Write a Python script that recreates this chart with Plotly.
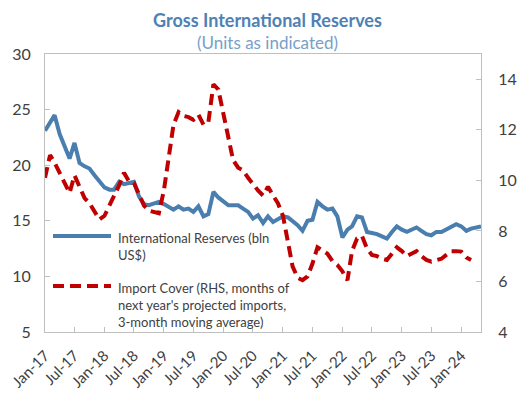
import pandas as pd
import plotly.graph_objects as go

# Monthly observations, Jan-2017 onward
reserves_start = "2017-01-01"
reserves_bln = [
    23.1, 23.8, 24.5, 22.8, 21.6, 20.6, 22.0, 20.2, 19.9, 19.7,
    19.1, 18.5, 18.0, 17.8, 17.8, 18.5, 18.3, 18.4, 18.5, 17.2,
    16.5, 16.4, 16.6, 16.7, 16.5, 16.2, 16.0, 16.3, 16.0, 16.1,
    15.8, 16.3, 15.4, 15.6, 17.6, 17.1, 16.7, 16.4, 16.4, 16.4,
    16.1, 15.8, 15.2, 15.5, 14.8, 15.4, 14.9, 15.1, 15.4, 15.3,
    15.0, 14.6, 14.1, 15.0, 15.1, 16.7, 16.3, 16.0, 16.1, 15.4,
    13.5, 14.2, 14.5, 15.4, 15.3, 14.0, 13.9, 13.8, 13.6, 13.4,
    14.0, 14.5, 14.2, 14.0, 14.2, 14.4, 14.1, 13.8, 13.7, 14.0,
    14.0, 14.2, 14.5, 14.7, 14.5, 14.1, 14.3, 14.4, 14.5,
]
import_cover_months = [
    10.1, 11.0, 10.7, 10.3, 9.9, 9.5, 10.2, 9.7, 9.3, 9.1,
    8.8, 8.45, 8.6, 9.0, 9.4, 9.8, 10.3, 9.95, 9.9, 9.4,
    9.0, 8.8, 8.75, 8.7, 9.6, 10.9, 12.2, 12.7, 12.55, 12.5,
    12.4, 12.6, 12.2, 12.3, 13.8, 13.6, 12.7, 11.7, 10.8, 10.5,
    10.4, 10.1, 9.85, 9.6, 9.4, 9.75, 9.4, 9.1, 8.6, 7.6,
    6.6, 6.15, 6.05, 6.2, 6.7, 7.35, 7.2, 7.1, 6.8, 6.65,
    6.4, 6.05, 7.2, 7.7, 7.8, 7.3, 7.05, 7.0, 6.9, 6.85,
    7.1, 7.35, 7.2, 7.0, 7.1, 7.2, 7.0, 6.85, 6.78, 6.85,
    6.9, 7.05, 7.2, 7.2, 7.18, 6.95, 6.85,
]
left_ticks = [5, 10, 15, 20, 25, 30]
right_ticks = [4, 6, 8, 10, 12, 14]

title_text = "Gross International Reserves"
subtitle_text = "(Units as indicated)"
reserves_label = "International Reserves (bln<br>US$)"
cover_label = "Import Cover (RHS, months of<br>next year's projected imports,<br>3-month moving average)"

reserves_dates = pd.date_range(reserves_start, periods=len(reserves_bln), freq="MS")
cover_dates = pd.date_range(reserves_start, periods=len(import_cover_months), freq="MS")

BLUE = "#4A7EAF"
RED = "#C00000"
AXIS = "#BFBFBF"
TEXT = "#404040"
FONT = "Lato"

fig = go.Figure()
fig.add_trace(go.Scatter(
    x=reserves_dates, y=reserves_bln, mode="lines", name="reserves",
    line=dict(color=BLUE, width=4), yaxis="y", showlegend=False,
))
fig.add_trace(go.Scatter(
    x=cover_dates, y=import_cover_months, mode="lines", name="cover",
    line=dict(color=RED, width=4, dash="11px,6px"), yaxis="y2", showlegend=False,
))

fig.update_layout(
    width=519, height=394,
    margin=dict(l=45, r=38, t=54, b=62),
    paper_bgcolor="white", plot_bgcolor="white",
    font=dict(family=FONT, color=TEXT),
    xaxis=dict(
        type="date", automargin=False,
        range=[reserves_dates[0], reserves_dates[-1]],
        tick0=reserves_start, dtick="M6", tickformat="%b-%y",
        tickangle=-45, tickfont=dict(size=15, color=TEXT),
        showgrid=False, zeroline=False,
        showline=True, linecolor=AXIS, linewidth=1, mirror=True,
        ticks="inside", ticklen=5, tickcolor=AXIS,
        ticklabelstandoff=8,
    ),
    yaxis=dict(
        range=[5, 30], tickvals=left_ticks, automargin=False,
        tickfont=dict(size=16, color=TEXT),
        showgrid=False, zeroline=False,
        showline=True, linecolor=AXIS, linewidth=1,
        ticks="inside", ticklen=5, tickcolor=AXIS,
        ticklabelstandoff=10,
    ),
    yaxis2=dict(
        range=[4, 15], tickvals=right_ticks, overlaying="y", side="right",
        automargin=False,
        tickfont=dict(size=16, color=TEXT),
        showgrid=False, zeroline=False,
        showline=True, linecolor=AXIS, linewidth=1,
        ticks="inside", ticklen=5, tickcolor=AXIS,
        ticklabelstandoff=13,
    ),
)

# Title block
fig.add_annotation(text="<b>" + title_text + "</b>", xref="paper", yref="paper",
                   x=0.51, y=1.0, yshift=34, yanchor="middle", showarrow=False,
                   font=dict(size=18, color="#4F81B3", family=FONT))
fig.add_annotation(text=subtitle_text, xref="paper", yref="paper",
                   x=0.51, y=1.0, yshift=12, yanchor="middle", showarrow=False,
                   font=dict(size=17, color="#77A0C9", family=FONT))

# Legend drawn inside the plot area
def px_x(p):
    return (p - 45) / (481 - 45)

def px_y(p):
    return (332 - p) / (332 - 54)

fig.add_shape(type="line", xref="paper", yref="paper",
              x0=px_x(53), x1=px_x(111), y0=px_y(236), y1=px_y(236),
              line=dict(color=BLUE, width=4))
fig.add_shape(type="line", xref="paper", yref="paper",
              x0=px_x(53), x1=px_x(111), y0=px_y(286), y1=px_y(286),
              line=dict(color=RED, width=4, dash="11px,6px"))
fig.add_annotation(text=reserves_label, xref="paper", yref="paper",
                   x=px_x(116), y=px_y(228), xanchor="left", yanchor="top",
                   align="left", showarrow=False,
                   font=dict(size=13, color=TEXT, family=FONT))
fig.add_annotation(text=cover_label, xref="paper", yref="paper",
                   x=px_x(116), y=px_y(278), xanchor="left", yanchor="top",
                   align="left", showarrow=False,
                   font=dict(size=13, color=TEXT, family=FONT))

fig.write_html("out.html")
